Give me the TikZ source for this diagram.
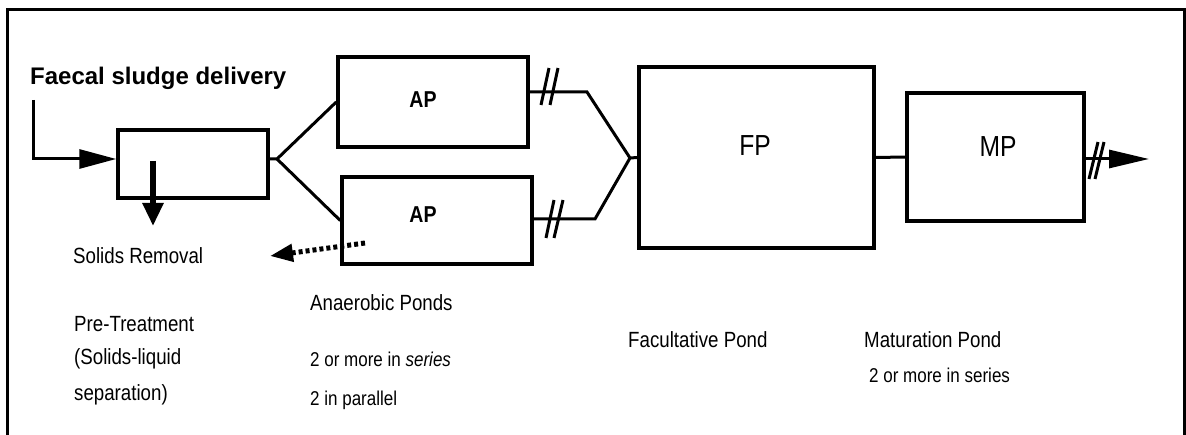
\documentclass[tikz,border=0pt]{standalone}
\usepackage{fontspec}
\setmainfont{Liberation Sans}
\newfontfamily\narrowsf{Liberation Sans}[FakeStretch=0.85]
\usetikzlibrary{arrows.meta}
\begin{document}
\begin{tikzpicture}[x=1pt,y=-1pt,
  pond/.style={draw, line width=3.5pt, rectangle, inner sep=0pt},
  conn/.style={line width=3pt},
  brk/.style={line width=3pt},
  lbl/.style={anchor=base west, inner sep=0pt, font=\narrowsf\fontsize{22}{26}\selectfont},
  small/.style={lbl, font=\narrowsf\fontsize{20}{24}\selectfont},
  boldlbl/.style={anchor=base west, inner sep=0pt, font=\bfseries\fontsize{24}{28}\selectfont},
  boxbold/.style={inner sep=0pt, font=\narrowsf\bfseries\fontsize{23}{27}\selectfont},
  boxbig/.style={inner sep=0pt, font=\narrowsf\fontsize{29}{33}\selectfont},
  bigarrow/.style={-{Triangle[length=37pt,width=19pt]}}
]
\useasboundingbox (0,0) rectangle (1186,435);
% frame
\draw[line width=3pt] (7,435) -- (7,10) -- (1184,10) -- (1184,435);

% ponds
\node[pond, minimum width=150pt, minimum height=68pt] (pre) at (193,164) {};
\node[pond, minimum width=190pt, minimum height=90pt] (apT) at (433,102) {};
\node[pond, minimum width=190pt, minimum height=87pt] (apB) at (437,220.5) {};
\node[pond, minimum width=235pt, minimum height=181pt] (fp) at (756.5,157.5) {};
\node[pond, minimum width=177pt, minimum height=128pt] (mp) at (995.5,157) {};

% box labels
\node[boxbold] (apTt) at (423,100) {AP};
\node[boxbold] (apBt) at (423,215) {AP};
\node[boxbig] (fpt) at (755,146) {FP};
\node[boxbig] (mpt) at (998,147) {MP};

% inlet
\coordinate (inl) at (33,100);
\draw[conn, bigarrow] (inl) |- ([yshift=5pt]pre.west);

% solids removal arrow
\coordinate (sr0) at (153,161);
\coordinate (sr1) at (153,226);
\draw[line width=5.5pt, -{Triangle[length=23pt,width=20pt]}] (sr0) -- (sr1);

% split to anaerobic ponds
\coordinate (sp) at (277,159);
\draw[conn] ([yshift=5pt]pre.east) -- (sp) -- (apT.west);
\draw[conn] (sp) -- (apB.west);

% merge to facultative pond
\coordinate (tm) at (587,92);
\coordinate (bm) at (595,219);
\coordinate (mg) at (630,158);
\draw[conn] ([yshift=10pt]apT.east) -- (tm) -- (mg) -- (fp.west);
\draw[conn] ([yshift=1.5pt]apB.east) -- (bm) -- (mg);
\draw[brk] (541,105) -- (549,68);
\draw[brk] (550,105) -- (558,68);
\draw[brk] (546,238) -- (554,200);
\draw[brk] (554,238) -- (563,200);

% FP to MP
\draw[conn] (fp.east) -- (mp.west);

% outlet
\coordinate (out) at (1149,159);
\draw[conn, -{Triangle[length=40pt,width=18pt]}] ([yshift=-2pt]mp.east) -- (out);
\draw[brk] (1089,179) -- (1098,142);
\draw[brk] (1095,179) -- (1104,142);

% dotted sludge return
\coordinate (d0) at (365,243);
\coordinate (d1) at (270,256);
\draw[line width=5pt, dash pattern=on 4pt off 3pt, -{Triangle[length=23pt,width=17pt]}] (d0) -- (d1);

% texts
\node[boldlbl] (fsd) at (30,85) {Faecal sludge delivery};
\node[lbl] (srm) at (73,264) {Solids Removal};
\node[lbl] (pt1) at (74,332) {Pre-Treatment};
\node[lbl] (pt2) at (74,365) {(Solids-liquid};
\node[lbl] (pt3) at (74,400) {separation)};
\node[lbl] (an1) at (310,311) {Anaerobic Ponds};
\node[small] (an2) at (310,367) {2 or more in \textit{series}};
\node[small] (an3) at (310,406) {2 in parallel};
\node[lbl] (fpl) at (628,348) {Facultative Pond};
\node[lbl] (mpl) at (864,348) {Maturation Pond};
\node[small] (mpl2) at (869,383) {2 or more in series};
\end{tikzpicture}
\end{document}
